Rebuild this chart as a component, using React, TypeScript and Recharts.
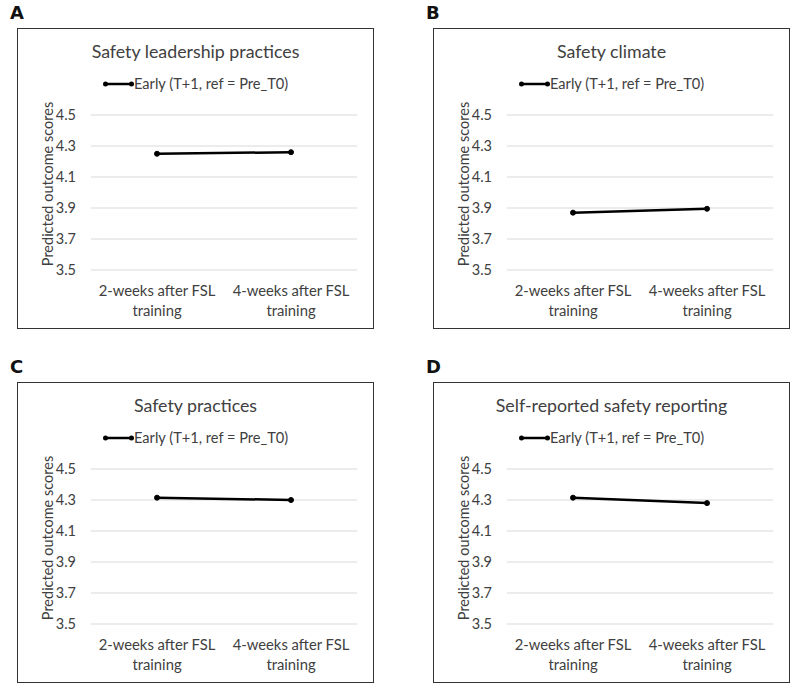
import React from "react";
import { LineChart, Line, XAxis, YAxis, CartesianGrid } from "recharts";

const categories = ["2-weeks after FSL training", "4-weeks after FSL training"];
const tickLines: Record<string, string[]> = {
  "2-weeks after FSL training": ["2-weeks after FSL", "training"],
  "4-weeks after FSL training": ["4-weeks after FSL", "training"],
};
const yTicks = [3.5, 3.7, 3.9, 4.1, 4.3, 4.5];
const seriesName = "Early (T+1, ref = Pre_T0)";

const leadershipValues = [4.25, 4.26];
const climateValues = [3.87, 3.895];
const practicesValues = [4.315, 4.3];
const reportingValues = [4.315, 4.28];

const panelLetters = ["A", "B", "C", "D"];
const panelTitles = [
  "Safety leadership practices",
  "Safety climate",
  "Safety practices",
  "Self-reported safety reporting",
];
const panelValues = [leadershipValues, climateValues, practicesValues, reportingValues];

const FONT = "Lato, 'Open Sans', sans-serif";
const TEXT = "#404040";

const W = 357;
const H = 301;

const XTick = (props: any) => {
  const { x, y, payload } = props;
  const lines = tickLines[payload.value] || [payload.value];
  return (
    <g>
      {lines.map((l, i) => (
        <text
          key={i}
          x={x}
          y={y + 20 + i * 20}
          textAnchor="middle"
          dominantBaseline="central"
          fill={TEXT}
          fontSize={14.8}
          fontFamily={FONT}
        >
          {l}
        </text>
      ))}
    </g>
  );
};

const YLabel = () => (
  <text
    x={30}
    y={156}
    transform="rotate(-90 30 156)"
    textAnchor="middle"
    dominantBaseline="central"
    fill={TEXT}
    fontSize={14.5}
    fontFamily={FONT}
  >
    Predicted outcome scores
  </text>
);

const Panel = ({ idx, left, top }: { idx: number; left: number; top: number }) => {
  const data = categories.map((c, i) => ({ cat: c, value: panelValues[idx][i] }));
  return (
    <>
      <div
        style={{
          position: "absolute",
          left: left - 7,
          top: top - 25,
          fontFamily: "'DejaVu Sans', sans-serif",
          fontWeight: "bold",
          fontSize: 18,
          lineHeight: "20px",
          color: "#111",
        }}
      >
        {panelLetters[idx]}
      </div>
      <div style={{ position: "absolute", left, top, width: W, height: H }}>
        <LineChart
          width={W}
          height={H}
          data={data}
          margin={{ top: 87, right: 17, bottom: 0, left: 0 }}
        >
          <CartesianGrid vertical={false} stroke="#d9d9d9" strokeWidth={1} />
          <XAxis
            dataKey="cat"
            axisLine={false}
            tickLine={false}
            tickSize={0}
            tickMargin={0}
            height={59}
            padding={{ left: 66, right: 66 }}
            tick={<XTick />}
            interval={0}
          />
          <YAxis
            width={74}
            domain={[3.5, 4.5]}
            ticks={yTicks}
            axisLine={false}
            tickLine={false}
            tickMargin={9}
            tickFormatter={(v: number) => v.toFixed(1)}
            tick={{ fill: TEXT, fontSize: 14.5, fontFamily: FONT }}
            label={<YLabel />}
          />
          <Line
            type="linear"
            dataKey="value"
            name={seriesName}
            stroke="#000"
            strokeWidth={2.5}
            dot={{ r: 2.5, fill: "#000", stroke: "#000", strokeWidth: 1 }}
            isAnimationActive={false}
          />
        </LineChart>
        <div
          style={{
            position: "absolute",
            left: 0,
            width: W,
            top: 12,
            textAlign: "center",
            fontFamily: FONT,
            fontSize: 17.8,
            color: TEXT,
          }}
        >
          {panelTitles[idx]}
        </div>
        <div
          style={{
            position: "absolute",
            left: 86,
            top: 47,
            display: "flex",
            alignItems: "center",
            fontFamily: FONT,
            fontSize: 14.6,
            color: TEXT,
            whiteSpace: "nowrap",
          }}
        >
          <svg width={31} height={10} style={{ display: "block" }}>
            <line x1={2} y1={5} x2={29} y2={5} stroke="#000" strokeWidth={2.5} />
            <circle cx={2.5} cy={5} r={2.5} fill="#000" />
            <circle cx={28.5} cy={5} r={2.5} fill="#000" />
          </svg>
          <span>{seriesName}</span>
        </div>
        <div
          style={{
            position: "absolute",
            inset: 0,
            border: "1.5px solid #333",
            pointerEvents: "none",
          }}
        />
      </div>
    </>
  );
};

export default function App() {
  return (
    <div
      style={{
        position: "absolute",
        left: 0,
        top: 0,
        width: 800,
        height: 691,
        background: "#fff",
        overflow: "hidden",
      }}
    >
      <Panel idx={0} left={17} top={28} />
      <Panel idx={1} left={433} top={28} />
      <Panel idx={2} left={17} top={382} />
      <Panel idx={3} left={433} top={382} />
    </div>
  );
}
